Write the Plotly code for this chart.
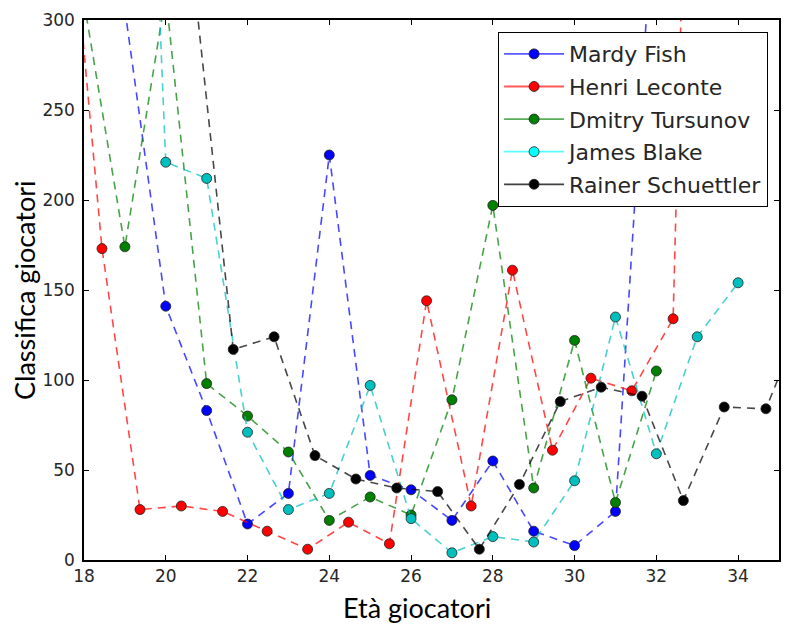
import plotly.graph_objects as go

# ---- data (age, year-end ranking) ----
fish_age = [19, 20, 21, 22, 23, 24, 25, 26, 27, 28, 29, 30, 31, 32]
fish_rank = [306, 141, 83, 20, 37, 225, 47, 39, 22, 55, 16, 8, 27, 390]

leconte_age = [17.45, 18.44, 19.37, 20.38, 21.39, 22.48, 23.47, 24.47, 25.47,
               26.38, 27.47, 28.48, 29.46, 30.4, 31.4, 32.41, 33.4]
leconte_rank = [420, 173, 28, 30, 27, 16, 6, 21, 9, 144, 30, 161, 61, 101, 94, 134, 1000]

tursunov_age = [18, 19, 20, 21, 22, 23, 24, 25, 26, 27, 28, 29, 30, 31, 32]
tursunov_rank = [310, 174, 314, 98, 80, 60, 22, 35, 25, 89, 197, 40, 122, 32, 105]

blake_age = [19, 20, 21, 22, 23, 24, 25, 26, 27, 28, 29, 30, 31, 32, 33, 34]
blake_rank = [770, 221, 212, 71, 28, 37, 97, 23, 4, 13, 10, 44, 135, 59, 124, 154]

schuettler_age = [20.65, 21.65, 22.65, 23.65, 24.65, 25.65, 26.65, 27.67, 28.65,
                  29.65, 30.65, 31.65, 32.66, 33.66, 34.68, 35.68]
schuettler_rank = [330, 117, 124, 58, 45, 40, 38, 6, 42, 88, 96, 91, 33, 85, 84, 140]

names = ["Mardy Fish", "Henri Leconte", "Dmitry Tursunov", "James Blake", "Rainer Schuettler"]
x_ticks = [18, 20, 22, 24, 26, 28, 30, 32, 34]
y_ticks = [0, 50, 100, 150, 200, 250, 300]

series = [(fish_age, fish_rank), (leconte_age, leconte_rank), (tursunov_age, tursunov_rank),
          (blake_age, blake_rank), (schuettler_age, schuettler_rank)]
marker_colors = ["#0000ff", "#ff0000", "#008000", "#00bfbf", "#000000"]
line_colors = ["rgba(0,0,255,0.72)", "rgba(255,0,0,0.72)", "rgba(0,128,0,0.72)",
               "rgba(0,191,191,0.72)", "rgba(0,0,0,0.72)"]
legend_marker = ["#0000ff", "#ff0000", "#008000", "#00ffff", "#000000"]
legend_line = ["rgba(0,0,255,0.65)", "rgba(255,0,0,0.65)", "rgba(0,128,0,0.65)",
               "rgba(0,255,255,0.65)", "rgba(0,0,0,0.75)"]

fig = go.Figure()
for i, (xs, ys) in enumerate(series):
    fig.add_trace(go.Scatter(
        x=xs, y=ys, mode="lines+markers", showlegend=False,
        line=dict(color=line_colors[i], width=1.6, dash="8px,6px"),
        marker=dict(color=marker_colors[i], size=10, line=dict(color="#222222", width=0.8)),
    ))
for i, nm in enumerate(names):
    fig.add_trace(go.Scatter(
        x=[None], y=[None], mode="lines+markers", name=nm, legendgroup=nm,
        line=dict(color=legend_line[i], width=1.8),
        marker=dict(color=legend_marker[i], size=10, line=dict(color="#222222", width=0.8)),
    ))

axis_common = dict(
    showline=True, linecolor="black", linewidth=1.5, mirror="allticks",
    ticks="inside", ticklen=5, tickwidth=1, tickcolor="black",
    showgrid=False, zeroline=False, automargin=False,
    tickfont=dict(family="DejaVu Sans", size=17, color="#262626"),
)

# page body has an 8px margin, so the figure is shrunk/shifted to compensate
fig.update_layout(
    width=786, height=624,
    margin=dict(l=76, r=15, t=12, b=72),
    paper_bgcolor="white", plot_bgcolor="white",
    xaxis=dict(range=[18, 35], tickvals=x_ticks, **axis_common),
    yaxis=dict(range=[0, 300], tickvals=y_ticks, ticklabelstandoff=4, **axis_common),
    legend=dict(x=0.984, y=0.978, xanchor="right", yanchor="top",
                bordercolor="black", borderwidth=1.2, bgcolor="white",
                font=dict(family="DejaVu Sans", size=22, color="#262626"),
                tracegroupgap=1, traceorder="grouped", itemwidth=60),
    annotations=[
        dict(text="Età giocatori", xref="paper", yref="paper",
             x=(417 - 84) / 695, y=-(607 - 560) / 540, xanchor="center", yanchor="middle",
             showarrow=False, font=dict(family="Lato", size=27, color="black")),
        dict(text="Classifica giocatori", xref="paper", yref="paper",
             x=-(84 - 24) / 695, y=0.5, xanchor="center", yanchor="middle", textangle=-90,
             showarrow=False, font=dict(family="Lato", size=27, color="black")),
    ],
)

fig.write_html("out.html")
